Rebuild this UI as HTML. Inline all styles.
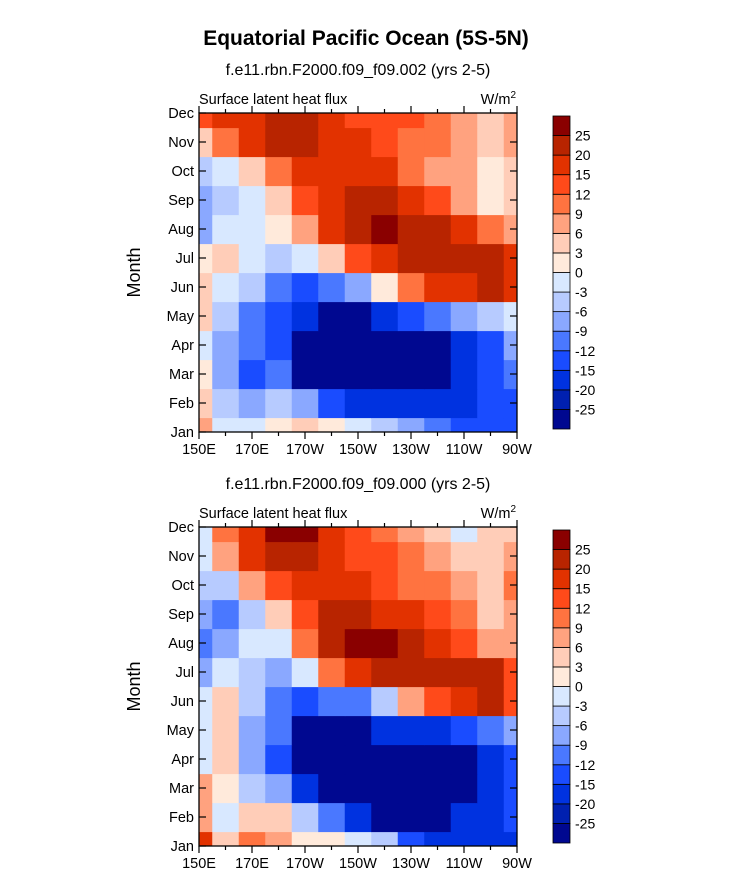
<!DOCTYPE html>
<html><head><meta charset="utf-8">
<style>
html,body{margin:0;padding:0;background:#fff;}
svg{display:block;font-family:"Liberation Sans",sans-serif;}
</style></head>
<body>
<svg id="fig" width="733" height="890" viewBox="0 0 733 890" xmlns="http://www.w3.org/2000/svg">
<text x="366" y="45" text-anchor="middle" font-size="21" font-weight="bold">Equatorial Pacific Ocean (5S-5N)</text>
</svg>
<script>
const months=["Jan","Feb","Mar","Apr","May","Jun","Jul","Aug","Sep","Oct","Nov","Dec"];
const lons=[150,160,170,180,190,200,210,220,230,240,250,260,270];
const xTickLabels=["150E","170E","170W","150W","130W","110W","90W"];
const xTickLons=[150,170,190,210,230,250,270];
const levels=[-25,-20,-15,-12,-9,-6,-3,0,3,6,9,12,15,20,25];
const levelColors=["#000890","#0020b0","#0032e0","#1a4cff","#4a78ff","#8aa8ff","#b7cbff","#d8e8ff","#ffeadb","#ffcdb8","#ffa27f","#ff7340","#ff4a1a","#e23200","#b82400","#8a0000"];
const panel1=[
[6,-3,-3,0,3,0,-3,-6,-9,-12,-15,-15,-15],
[3,-6,-9,-6,-9,-15,-20,-20,-20,-20,-20,-15,-15],
[0,-9,-15,-12,-26,-26,-26,-26,-26,-26,-20,-15,-12],
[-3,-9,-12,-15,-26,-26,-26,-26,-26,-26,-20,-15,-9],
[3,-6,-12,-15,-20,-26,-26,-20,-15,-12,-9,-6,-3],
[3,-3,-6,-12,-15,-12,-9,0,9,15,15,20,15],
[0,3,-3,-6,-3,3,12,15,20,20,20,20,15],
[-9,-3,-3,0,6,15,20,26,20,20,15,9,6],
[-9,-6,-3,3,12,15,20,20,15,12,6,0,3],
[-6,-3,3,9,15,15,15,15,9,6,6,0,3],
[3,9,15,20,20,15,15,12,9,9,6,3,6],
[12,15,15,20,22,15,12,12,12,9,6,3,6]];
const panel2=[
[15,3,9,6,0,0,-3,-6,-15,-20,-20,-20,-20],
[6,-3,3,3,-6,-12,-20,-26,-26,-26,-20,-20,-15],
[6,0,-6,-9,-20,-26,-26,-26,-26,-26,-26,-20,-15],
[-3,3,-9,-15,-26,-26,-26,-26,-26,-26,-26,-20,-15],
[-3,3,-9,-12,-26,-26,-26,-20,-20,-20,-15,-12,-9],
[-3,3,-6,-12,-15,-12,-12,-6,6,12,15,20,12],
[-9,-3,-6,-9,-3,9,15,20,20,20,20,20,12],
[-12,-9,-3,-3,9,20,26,26,20,15,12,6,6],
[-9,-12,-6,3,12,20,20,15,15,12,9,3,6],
[-6,-6,6,12,15,15,15,12,9,9,6,3,9],
[-3,6,15,20,20,15,12,12,9,6,3,3,6],
[-3,9,15,26,26,15,12,9,6,3,-3,3,3]];
const subtitles=["f.e11.rbn.F2000.f09_f09.002 (yrs 2-5)","f.e11.rbn.F2000.f09_f09.000 (yrs 2-5)"];

const NS="http://www.w3.org/2000/svg";
const svg=document.getElementById('fig');
function mk(tag,attrs,parent){const e=document.createElementNS(NS,tag);for(const k in attrs)e.setAttribute(k,attrs[k]);(parent||svg).appendChild(e);return e;}
function colorFor(v){let i=0;while(i<levels.length&&v>=levels[i])i++;return levelColors[i];}

function drawPanel(idx,data,top){
  const L=199,R=517,T=top,B=top+319;
  const xs=l=>L+(l-150)/(270-150)*(R-L);
  const ys=m=>B-m/11*(B-T);
  const g=mk('g',{});
  
  
  const st=mk('text',{x:358,y:top-38,'text-anchor':'middle','font-size':16},g);
  st.textContent=subtitles[idx];
  
  
  const ls=mk('text',{x:L,y:top-9,'font-size':14.5},g);
  ls.textContent="Surface latent heat flux";
  
  
  const us=mk('text',{x:R-1,y:top-9,'font-size':14.5,'text-anchor':'end'},g);
  us.innerHTML='W/m<tspan font-size="10" dy="-6">2</tspan>';
  
  
  const cid='clip'+idx;
  const cp=mk('clipPath',{id:cid},g);mk('rect',{x:L,y:T,width:R-L,height:B-T},cp);
  const cg=mk('g',{'clip-path':'url(#'+cid+')'},g);
  
  
  const dx=(xs(lons[1])-xs(lons[0])),dy=(ys(0)-ys(1));
  for(let m=0;m<data.length;m++)for(let j=0;j<lons.length;j++){
    const r=mk('rect',{x:xs(lons[j])-dx/2,y:ys(m)-dy/2,width:dx+0.6,height:dy+0.6,fill:colorFor(data[m][j])},cg);
    
    
  }
  mk('rect',{x:L,y:T,width:R-L,height:B-T,fill:'none',stroke:'#000','stroke-width':1.3},g);
  months.forEach((mn,m)=>{
    const y=ys(m);
    mk('line',{x1:L,x2:L+7,y1:y,y2:y,stroke:'#000','stroke-width':1.2},g);
    mk('line',{x1:R-7,x2:R,y1:y,y2:y,stroke:'#000','stroke-width':1.2},g);
    const t=mk('text',{x:L-5,y:y+5,'text-anchor':'end','font-size':14.5},g);
    t.textContent=mn;
    
    
  });
  for(let l=150;l<=270;l+=10){
    const major=xTickLons.includes(l);const x=xs(l);const len=major?7:4;
    mk('line',{x1:x,x2:x,y1:B,y2:B+len,stroke:'#000','stroke-width':1.2},g);
    mk('line',{x1:x,x2:x,y1:T-len,y2:T,stroke:'#000','stroke-width':1.2},g);
  }
  xTickLons.forEach((l,i)=>{
    const t=mk('text',{x:xs(l),y:B+22,'text-anchor':'middle','font-size':14.5},g);
    t.textContent=xTickLabels[i];
    
    
  });
  const yt=mk('text',{x:0,y:0,'font-size':18,'text-anchor':'middle',transform:'translate(140,'+((T+B)/2)+') rotate(-90)'},g);
  yt.textContent="Month";
  
  
  const cb=mk('g',{},g);
  
  
  const cT=T+3,cB=B-3,n=levelColors.length,h=(cB-cT)/n;
  levelColors.forEach((c,i)=>{
    const r=mk('rect',{x:553,y:cB-(i+1)*h,width:17,height:h,fill:c,stroke:'#000','stroke-width':0.8},cb);
    
    
  });
  levels.forEach((lv,i)=>{
    const t=mk('text',{x:575,y:cB-(i+1)*h+5,'font-size':14},cb);
    t.textContent=lv;
    
    
  });
}
drawPanel(0,panel1,113);
drawPanel(1,panel2,527);
</script>
</body></html>
